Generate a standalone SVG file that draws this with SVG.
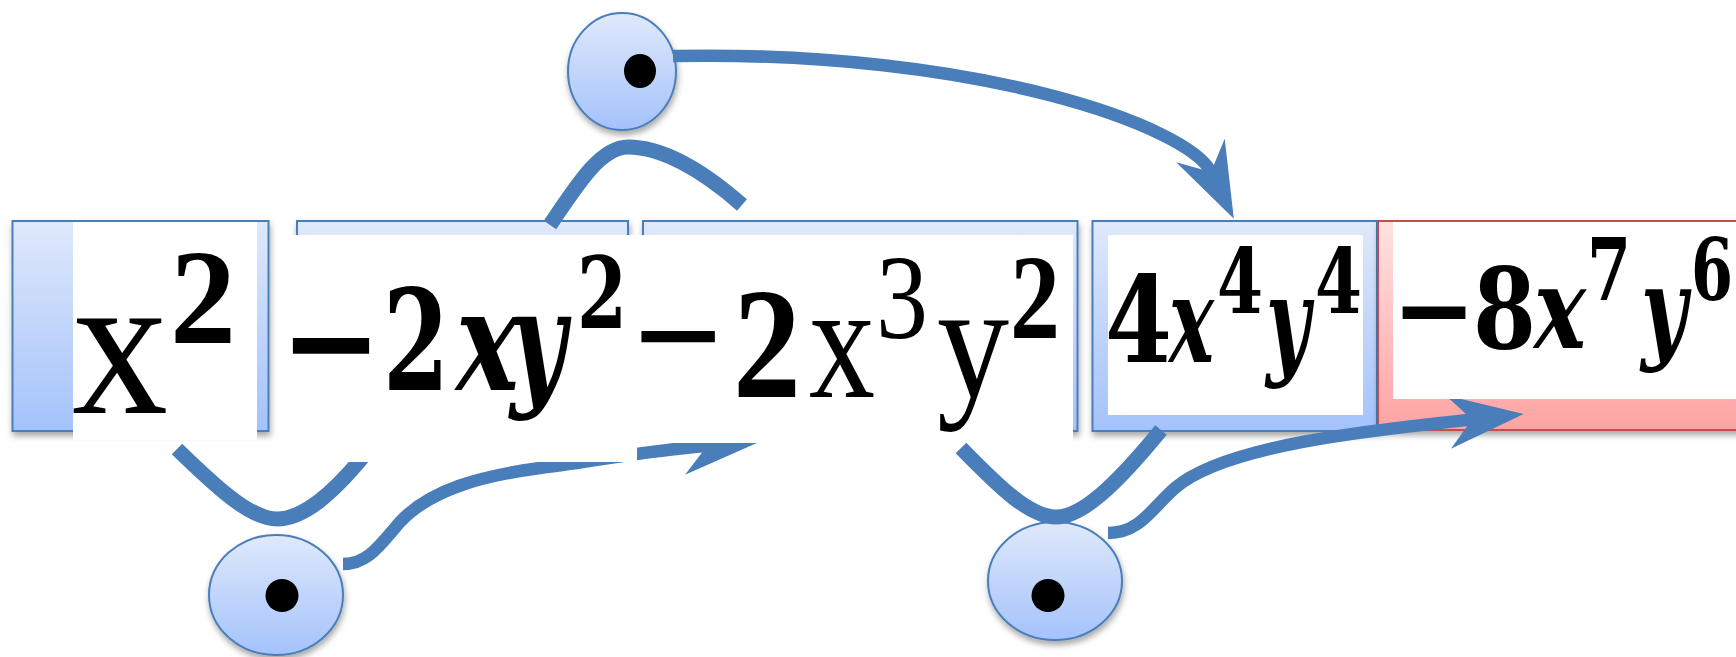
<svg xmlns="http://www.w3.org/2000/svg" width="1736" height="657" viewBox="0 0 1736 657">
<defs>
<linearGradient id="gb" x1="0" y1="0" x2="0" y2="1"><stop offset="0" stop-color="#dfe9fb"/><stop offset="1" stop-color="#a4c2fb"/></linearGradient>
<linearGradient id="gr" x1="0" y1="0" x2="0" y2="1"><stop offset="0" stop-color="#ffe2e2"/><stop offset="1" stop-color="#ffa3a3"/></linearGradient>
<filter id="sh" x="-10%" y="-10%" width="130%" height="140%"><feDropShadow dx="1" dy="4" stdDeviation="3" flood-color="#000" flood-opacity="0.35"/></filter>
<marker id="ah" markerUnits="userSpaceOnUse" viewBox="0 0 76 54" refX="24" refY="27" markerWidth="76" markerHeight="54" orient="auto"><path d="M0,0 L76,27 L0,54 L24,27 Z" fill="#4a7ebb"/></marker>
<clipPath id="cp"><path clip-rule="evenodd" d="M0,0H1736V657H0Z M73,222H257V440H73Z M283,235H637V462H283Z M637,235H1073V443H637Z M1108,235H1363V415H1108Z M1393,222H1736V399H1393Z"/></clipPath>
<style>
.box{fill:url(#gb);stroke:#4a7ebb;stroke-width:2;filter:url(#sh)}
.rbox{fill:url(#gr);stroke:#c0504d;stroke-width:2;filter:url(#sh)}
.pane{fill:#fff}
.circ{fill:url(#gb);stroke:#4a7ebb;stroke-width:2;filter:url(#sh)}
.dot{fill:#000}
.con{fill:none;stroke:#4a7ebb;stroke-width:12.5}
.cup{fill:none;stroke:#4a7ebb;stroke-width:15}
text{font-family:"Liberation Serif","Times New Roman",serif;fill:#000}
.c{font-family:"DejaVu Serif","Liberation Serif",serif}
.b{font-weight:bold}
.bi{font-weight:bold;font-style:italic}
</style>
</defs>

<g id="node-x2">
<rect class="box" x="12.5" y="221" width="256" height="210"/>
</g>
<g id="node-2xy2">
<rect class="box" x="297" y="221" width="331" height="210"/>
</g>
<g id="node-2x3y2">
<rect class="box" x="643" y="221" width="434.5" height="210"/>
</g>
<g id="node-4x4y4">
<rect class="box" x="1092.5" y="221" width="284.5" height="210"/>
</g>
<g id="node-8x7y6">
<rect class="rbox" x="1378" y="221" width="400" height="209"/>
</g>

<g id="dot-top">
<ellipse class="circ" cx="622" cy="71.5" rx="54" ry="58.5"/>
<ellipse class="dot" cx="640" cy="71" rx="16" ry="17"/>
</g>
<g id="dot-left">
<ellipse class="circ" cx="276" cy="595" rx="67" ry="60"/>
<ellipse class="dot" cx="282" cy="595.5" rx="16.5" ry="16.5"/>
</g>
<g id="dot-right">
<ellipse class="circ" cx="1055" cy="581" rx="67" ry="59"/>
<ellipse class="dot" cx="1048" cy="595.5" rx="16.5" ry="16.5"/>
</g>

<g id="connectors" clip-path="url(#cp)">
<path class="cup" d="M550,225 C580,180 602,147 628,147 C660,147 700,168 742,205"/>
<path class="cup" d="M177,449 C215,486 250,519 277,519 C302,519 332,497 374,443"/>
<path class="cup" d="M961,448 C1000,488 1030,517 1056,517 C1082,517 1116,485 1161,430"/>
<path class="con" marker-end="url(#ah)" d="M673,56 C980,50 1189,127 1211,172"/>
<path class="con" marker-end="url(#ah)" d="M343,564 C368,564 380,545 400,522 C430,490 480,476 540,468 C600,461 640,451 707,446"/>
<path class="con" marker-end="url(#ah)" d="M1108,533 C1140,533 1152,508 1175,488 C1225,445 1372,430 1472,419.5"/>
</g>

<g id="label-x2">
<rect class="pane" x="73" y="222" width="184" height="218"/>
<text><tspan x="72" y="413" font-size="205" textLength="96" lengthAdjust="spacingAndGlyphs">x</tspan><tspan class="b" x="170" y="343" font-size="136" textLength="66" lengthAdjust="spacingAndGlyphs">2</tspan></text>
</g>
<g id="label-2xy2">
<rect class="pane" x="283" y="235" width="354" height="227"/>
<text class="c"><tspan class="b" x="280" y="390" font-size="141" textLength="102" lengthAdjust="spacingAndGlyphs">−</tspan><tspan class="b" x="383" y="390" font-size="141" textLength="66" lengthAdjust="spacingAndGlyphs">2</tspan><tspan class="bi" x="456" y="390" font-size="141" textLength="63" lengthAdjust="spacingAndGlyphs">x</tspan><tspan class="bi" x="510" y="390" font-size="141" textLength="56" lengthAdjust="spacingAndGlyphs">y</tspan><tspan class="b" x="577" y="328" font-size="99" textLength="50" lengthAdjust="spacingAndGlyphs">2</tspan></text>
</g>
<g id="label-2x3y2">
<rect class="pane" x="637" y="235" width="436" height="208"/>
<text><tspan class="b" x="633" y="390" font-size="160" textLength="90" lengthAdjust="spacingAndGlyphs">−</tspan><tspan class="b" x="733" y="397" font-size="158" textLength="68" lengthAdjust="spacingAndGlyphs">2</tspan><tspan x="809" y="397" font-size="165" textLength="66" lengthAdjust="spacingAndGlyphs">x</tspan><tspan x="876" y="338" font-size="121" textLength="52" lengthAdjust="spacingAndGlyphs">3</tspan><tspan x="937" y="397" font-size="165" textLength="72" lengthAdjust="spacingAndGlyphs">y</tspan><tspan class="b" x="1010" y="338" font-size="121" textLength="50" lengthAdjust="spacingAndGlyphs">2</tspan></text>
</g>
<g id="label-4x4y4">
<rect class="pane" x="1108" y="235" width="255" height="180"/>
<text class="c"><tspan class="b" x="1105" y="362" font-size="119" textLength="67" lengthAdjust="spacingAndGlyphs">4</tspan><tspan class="bi" x="1169" y="362" font-size="119" textLength="45" lengthAdjust="spacingAndGlyphs">x</tspan><tspan class="b" x="1217" y="313" font-size="89" textLength="46" lengthAdjust="spacingAndGlyphs">4</tspan><tspan class="bi" x="1266" y="362" font-size="119" textLength="44" lengthAdjust="spacingAndGlyphs">y</tspan><tspan class="b" x="1315" y="313" font-size="89" textLength="47" lengthAdjust="spacingAndGlyphs">4</tspan></text>
</g>
<g id="label-8x7y6">
<rect class="pane" x="1393" y="222" width="343" height="177"/>
<text class="c"><tspan class="b" x="1392" y="348" font-size="112" textLength="84" lengthAdjust="spacingAndGlyphs">−</tspan><tspan class="b" x="1473" y="348" font-size="112" textLength="63" lengthAdjust="spacingAndGlyphs">8</tspan><tspan class="bi" x="1534" y="348" font-size="112" textLength="52" lengthAdjust="spacingAndGlyphs">x</tspan><tspan class="b" x="1587" y="300" font-size="86" textLength="44" lengthAdjust="spacingAndGlyphs">7</tspan><tspan class="bi" x="1641" y="348" font-size="112" textLength="46" lengthAdjust="spacingAndGlyphs">y</tspan><tspan class="b" x="1691" y="300" font-size="86" textLength="42" lengthAdjust="spacingAndGlyphs">6</tspan></text>
</g>
</svg>
